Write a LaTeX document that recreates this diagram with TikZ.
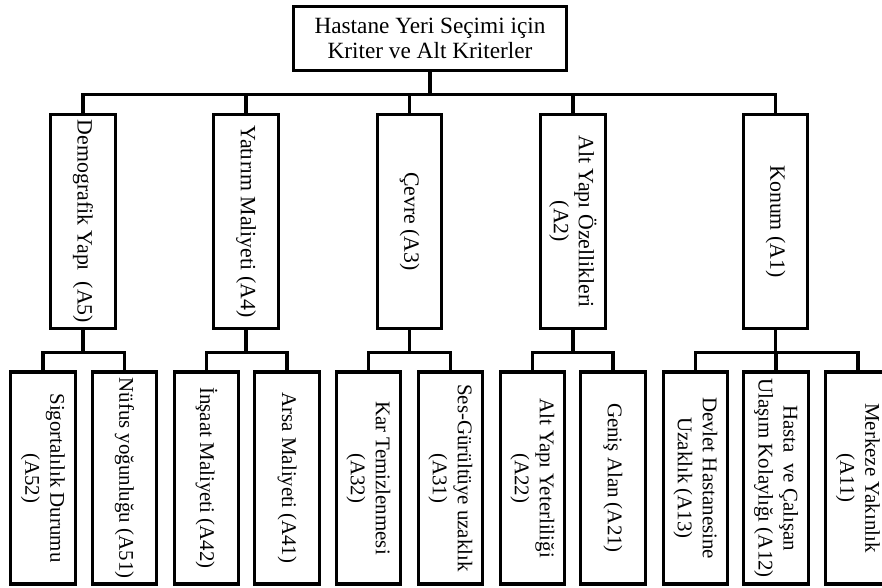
\documentclass[tikz,border=0pt]{standalone}
\usepackage{fontspec}
\setmainfont{Liberation Serif}

\begin{document}
\begin{tikzpicture}[x=0.55pt,y=-0.55pt,line width=1.8pt,
  every node/.style={draw,rectangle,inner sep=2pt,align=center,font=\fontsize{12}{13.75}\selectfont},
  krit/.style={rotate=-90,minimum width=118pt,minimum height=35.5pt},
  altkrit/.style={rotate=-90,inner xsep=0.5pt,minimum width=116.5pt,minimum height=35.5pt,
                  font=\fontsize{11.5}{13.75}\selectfont},
  dirsek/.style={to path={-- ++(0,22) -| (\tikztotarget)}}]
	\useasboundingbox (0,0) rectangle (882,587);
	\clip (0,0) rectangle (882,587);

	\node (kok) at (430,38.5) [minimum width=150.5pt,minimum height=35.5pt,
	      font=\fontsize{12.8}{14}\selectfont] {Hastane Yeri Seçimi için\\Kriter ve Alt Kriterler};

	\node[krit] (nA5) at (83,221.5)    {Demografik Yapı\ \ (A5)};
	\node[krit] (nA4) at (246,221.5)   {Yatırım Maliyeti (A4)};
	\node[krit] (nA3) at (409.5,221.5) {Çevre (A3)};
	\node[krit] (nA2) at (573,221.5)   {Alt Yapı Özellikleri\\(A2)};
	\node[krit] (nA1) at (775.5,221.5) {Konum (A1)};

	\node[altkrit] (nA52) at (43,478)    {Sigortalılık Durumu\\(A52)};
	\node[altkrit] (nA51) at (124.5,478) {Nüfus yoğunluğu (A51)};
	\node[altkrit] (nA42) at (206.5,478) {İnşaat Maliyeti (A42)};
	\node[altkrit] (nA41) at (287,478)   {Arsa Maliyeti (A41)};
	\node[altkrit] (nA32) at (368.5,478) {Kar Temizlenmesi\\(A32)};
	\node[altkrit] (nA31) at (450.5,478) {Ses-Gürültüye uzaklık\\(A31)};
	\node[altkrit] (nA22) at (532.5,478) {Alt Yapı Yeterliliği\\(A22)};
	\node[altkrit] (nA21) at (613,478)   {Geniş Alan (A21)};
	\node[altkrit] (nA13) at (695.5,478) {Devlet Hastanesine\\Uzaklık (A13)};
	\node[altkrit] (nA12) at (776,478)   {Hasta\ \ ve Çalışan\\Ulaşım Kolaylığı (A12)};
	\node[altkrit] (nA11) at (858,478)   {Merkeze Yakınlık\\(A11)};

  \path (kok.south) edge[dirsek] (nA5.west)
                    edge[dirsek] (nA4.west)
                    edge[dirsek] (nA3.west)
                    edge[dirsek] (nA2.west)
                    edge[dirsek] (nA1.west)
        (nA5.east)  edge[dirsek] (nA52.west)
                    edge[dirsek] (nA51.west)
        (nA4.east)  edge[dirsek] (nA42.west)
                    edge[dirsek] (nA41.west)
        (nA3.east)  edge[dirsek] (nA32.west)
                    edge[dirsek] (nA31.west)
        (nA2.east)  edge[dirsek] (nA22.west)
                    edge[dirsek] (nA21.west)
        (nA1.east)  edge[dirsek] (nA13.west)
                    edge[dirsek] (nA12.west)
                    edge[dirsek] (nA11.west);
\end{tikzpicture}
\end{document}
